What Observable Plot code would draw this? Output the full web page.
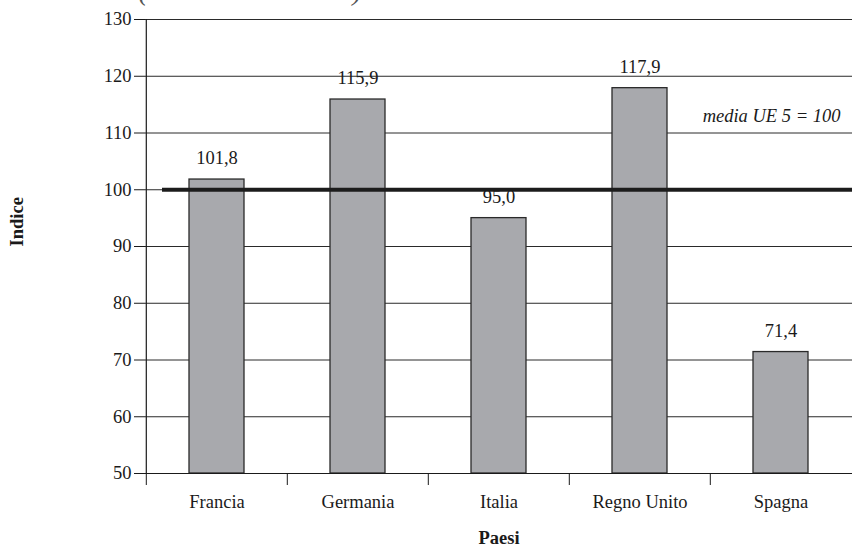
<!DOCTYPE html>
<html>
<head>
<meta charset="utf-8">
<script src="https://cdn.jsdelivr.net/npm/d3@7"></script>
<script src="https://cdn.jsdelivr.net/npm/@observablehq/plot@0.6"></script>
<style>
  body { margin: 0; background: #fff; }
  #chart svg { overflow: visible; }
  #chart svg, #chart svg text {
    font-family: "Liberation Serif", "Times New Roman", serif !important;
    font-variant-numeric: normal !important;
  }
</style>
</head>
<body>
<div id="chart"></div>
<script>
// Indice per paese (media UE 5 = 100)
const paesi = ["Francia", "Germania", "Italia", "Regno Unito", "Spagna"];
const indice = [101.8, 115.9, 95.0, 117.9, 71.4];
const yTicks = [50, 60, 70, 80, 90, 100, 110, 120, 130];
const riferimento = 100;

const data = paesi.map((p, i) => ({paese: p, valore: indice[i]}));
const fmt = d3.format(".1f");
const itNum = v => fmt(v).replace(".", ",");

const W = 852, H = 550;
const mLeft = 145, mRight = 0, mTop = 19, mBottom = 77;
const step = (W - mLeft - mRight) / paesi.length;
const ink = "#1a1a1a";
const fs = 18.5;

const chart = Plot.plot({
  width: W,
  height: H,
  marginLeft: mLeft,
  marginRight: mRight,
  marginTop: mTop,
  marginBottom: mBottom,
  style: {fontSize: `${fs}px`, color: ink, background: "#fff"},
  x: {domain: paesi, padding: 0},
  y: {domain: [50, 130]},
  marks: [
    // horizontal gridlines (top line closes the frame)
    Plot.ruleY(yTicks.filter(t => t > 50), {stroke: "#2a2a2a", strokeWidth: 1}),
    // left axis line
    Plot.ruleX([paesi[0]], {dx: -step / 2, stroke: ink, strokeWidth: 1.2}),
    // bars
    Plot.barY(data, {
      x: "paese", y1: 50, y2: "valore",
      insetLeft: 43, insetRight: 43,
      fill: "#a8a9ad", stroke: "#2a2a2a", strokeWidth: 1.3
    }),
    // baseline
    Plot.ruleY([50], {stroke: ink, strokeWidth: 1.2}),
    // reference line at 100
    Plot.ruleY([riferimento], {stroke: "#1c1c1c", strokeWidth: 4, insetLeft: 17}),
    Plot.text(["media UE 5 = 100"], {
      frameAnchor: "right", y: 113, dx: -12, textAnchor: "end",
      fontStyle: "italic", fontSize: fs, fill: ink
    }),
    // value labels
    Plot.text(data, {
      x: "paese", y: "valore", text: d => itNum(d.valore),
      dy: -21, fontSize: fs, fill: ink
    }),
    // y axis
    Plot.axisY(yTicks, {
      tickSize: 11, tickPadding: 3, fontSize: fs, label: null,
      stroke: ink, fill: ink
    }),
    // x axis: ticks at band boundaries, labels at band centres
    Plot.axisX({tickSize: 12, dx: -step / 2, tickFormat: () => "", label: null, stroke: ink}),
    Plot.axisX({tickSize: 0, tickPadding: 21, fontSize: fs, label: null, fill: ink}),
    // axis titles
    Plot.text(["Indice"], {
      frameAnchor: "left", dx: -128, rotate: -90,
      fontWeight: "bold", fontSize: fs, fill: ink
    }),
    Plot.text(["Paesi"], {
      frameAnchor: "bottom", dy: 70,
      fontWeight: "bold", fontSize: fs, fill: ink
    }),
    // subtitle, sitting partly above the page edge
    Plot.text(["(media UE 5 = 100)"], {
      frameAnchor: "top-left", dx: -7, dy: -20, textAnchor: "start", lineAnchor: "bottom",
      fontStyle: "italic", fontSize: 27.5, fill: "#555"
    })
  ]
});

document.getElementById("chart").append(chart);
</script>
</body>
</html>
